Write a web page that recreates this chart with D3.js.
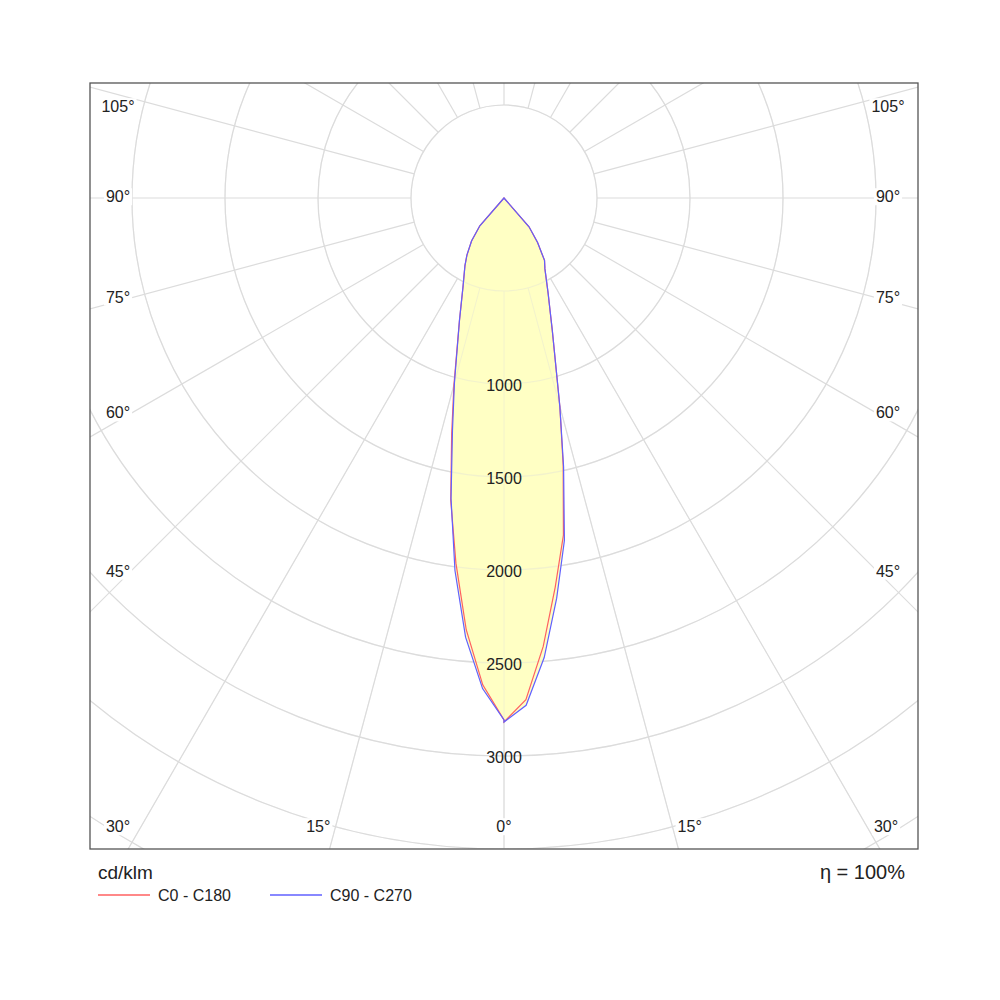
<!DOCTYPE html>
<html><head><meta charset="utf-8">
<script src="https://cdn.jsdelivr.net/npm/d3@7"></script>
<style>body{margin:0;background:#fff}svg{font-family:"Liberation Sans",Arial,sans-serif}</style>
</head><body><svg id="c" width="1000" height="1000"></svg>
<script>
const gammas = [0,2.5,5,7.5,10,12.5,15,20,25,30,33,37,41,45,90];
const c180 = [2806,2620,2330,1980,1650,1300,1040,700,520,420,366,290,198,0,0];
const c0   = [2817,2700,2420,2110,1840,1470,1160,760,560,440,400,300,205,0,0];
const c270 = [2806,2640,2370,2020,1640,1280,1030,700,520,420,366,290,198,0,0];
const c90  = [2817,2730,2480,2170,1870,1480,1160,760,560,440,400,300,205,0,0];
const ringValues = [500,1000,1500,2000,2500,3000,3500,4000,4500];
const ringLabels = [1000,1500,2000,2500,3000];
const spokeAngles = d3.range(0,360,15);
const angleLabels = [105,90,75,60,45,30,15,0];
const legend = [{name:"C0 - C180",color:"#ff6060"},{name:"C90 - C270",color:"#6060ff"}];

const svg = d3.select("#c");
const fx0=90, fy0=83, fx1=918, fy1=849;
const cx=504, cy=198;
const r = d3.scaleLinear().domain([0,500]).range([0,93]);
const pt = (g,v)=>[cx + r(v)*Math.sin(g*Math.PI/180), cy + r(v)*Math.cos(g*Math.PI/180)];

svg.append("clipPath").attr("id","fr").append("rect").attr("x",fx0).attr("y",fy0).attr("width",fx1-fx0).attr("height",fy1-fy0);
const g = svg.append("g").attr("clip-path","url(#fr)");
const grid="#dcdcdc";
spokeAngles.forEach(a=>{
  const p0=pt(a,500), p1=pt(a,6000);
  g.append("line").attr("x1",p0[0]).attr("y1",p0[1]).attr("x2",p1[0]).attr("y2",p1[1]).attr("stroke",grid).attr("stroke-width",1.2);
});
ringValues.forEach(v=>g.append("circle").attr("cx",cx).attr("cy",cy).attr("r",r(v)).attr("fill","none").attr("stroke",grid).attr("stroke-width",1.2));

function curve(left,right){
  const pts=[];
  for(let i=gammas.length-1;i>=0;i--) pts.push(pt(-gammas[i],left[i]));
  for(let i=0;i<gammas.length;i++) pts.push(pt(gammas[i],right[i]));
  return d3.line()(pts)+"Z";
}
g.append("path").attr("d",curve(c180,c0)).attr("fill","#ffffc4").attr("stroke","none");
g.append("path").attr("d",curve(c270,c90)).attr("fill","#ffffc4").attr("stroke","none");
const go = g.append("g").attr("opacity",0.35);
spokeAngles.filter(a=>a<=30||a>=330).forEach(a=>{const p0=pt(a,500),p1=pt(a,6000);go.append("line").attr("x1",p0[0]).attr("y1",p0[1]).attr("x2",p1[0]).attr("y2",p1[1]).attr("stroke",grid);});
ringValues.forEach(v=>go.append("circle").attr("cx",cx).attr("cy",cy).attr("r",r(v)).attr("fill","none").attr("stroke",grid).attr("stroke-width",1.2));
g.append("path").attr("d",curve(c180,c0)).attr("fill","none").attr("stroke",legend[0].color).attr("stroke-width",1.2);
g.append("path").attr("d",curve(c270,c90)).attr("fill","none").attr("stroke",legend[1].color).attr("stroke-width",1.2);

ringLabels.forEach(v=>svg.append("text").attr("x",cx).attr("y",cy+r(v)+3).attr("text-anchor","middle").attr("dominant-baseline","middle").attr("font-size",16).attr("fill","#222").text(v));

angleLabels.forEach(a=>{
  [-1,1].forEach(s=>{
    let x,y;
    if(a>=45){
      x = s<0 ? 118 : 888;
      y = cy + (cx-118)*Math.tan((90-a)*Math.PI/180)*0.97;
      y = Math.max(y,108);
    } else {
      y = 828;
      x = cx + s*(828-cy)*Math.tan(a*Math.PI/180)*1.1;
      x = s<0 ? Math.max(x,118) : Math.min(x,886);
    }
    if(a===0 && s>0) return;
    const t=svg.append("text").attr("x",x).attr("y",y).attr("text-anchor","middle").attr("dominant-baseline","middle").attr("font-size",16).attr("fill","#222").text(a+"°");
    const bb=t.node().getBBox();
    svg.insert("rect","text").attr("x",bb.x-2).attr("y",bb.y).attr("width",bb.width+4).attr("height",bb.height).attr("fill","#fff");
  });
});
svg.append("rect").attr("x",fx0).attr("y",fy0).attr("width",fx1-fx0).attr("height",fy1-fy0).attr("fill","none").attr("stroke","#555").attr("stroke-width",1.3);

svg.append("text").attr("x",98).attr("y",879).attr("font-size",19).attr("fill","#222").text("cd/klm");
svg.append("text").attr("x",905).attr("y",879).attr("text-anchor","end").attr("font-size",20).attr("fill","#222").text("η = 100%");
legend.forEach((l,i)=>{
  const x0 = 98 + i*172;
  svg.append("line").attr("x1",x0).attr("x2",x0+52).attr("y1",895).attr("y2",895).attr("stroke",l.color).attr("stroke-width",1.5);
  svg.append("text").attr("x",x0+60).attr("y",901).attr("font-size",16).attr("fill","#222").text(l.name);
});
</script></body></html>
